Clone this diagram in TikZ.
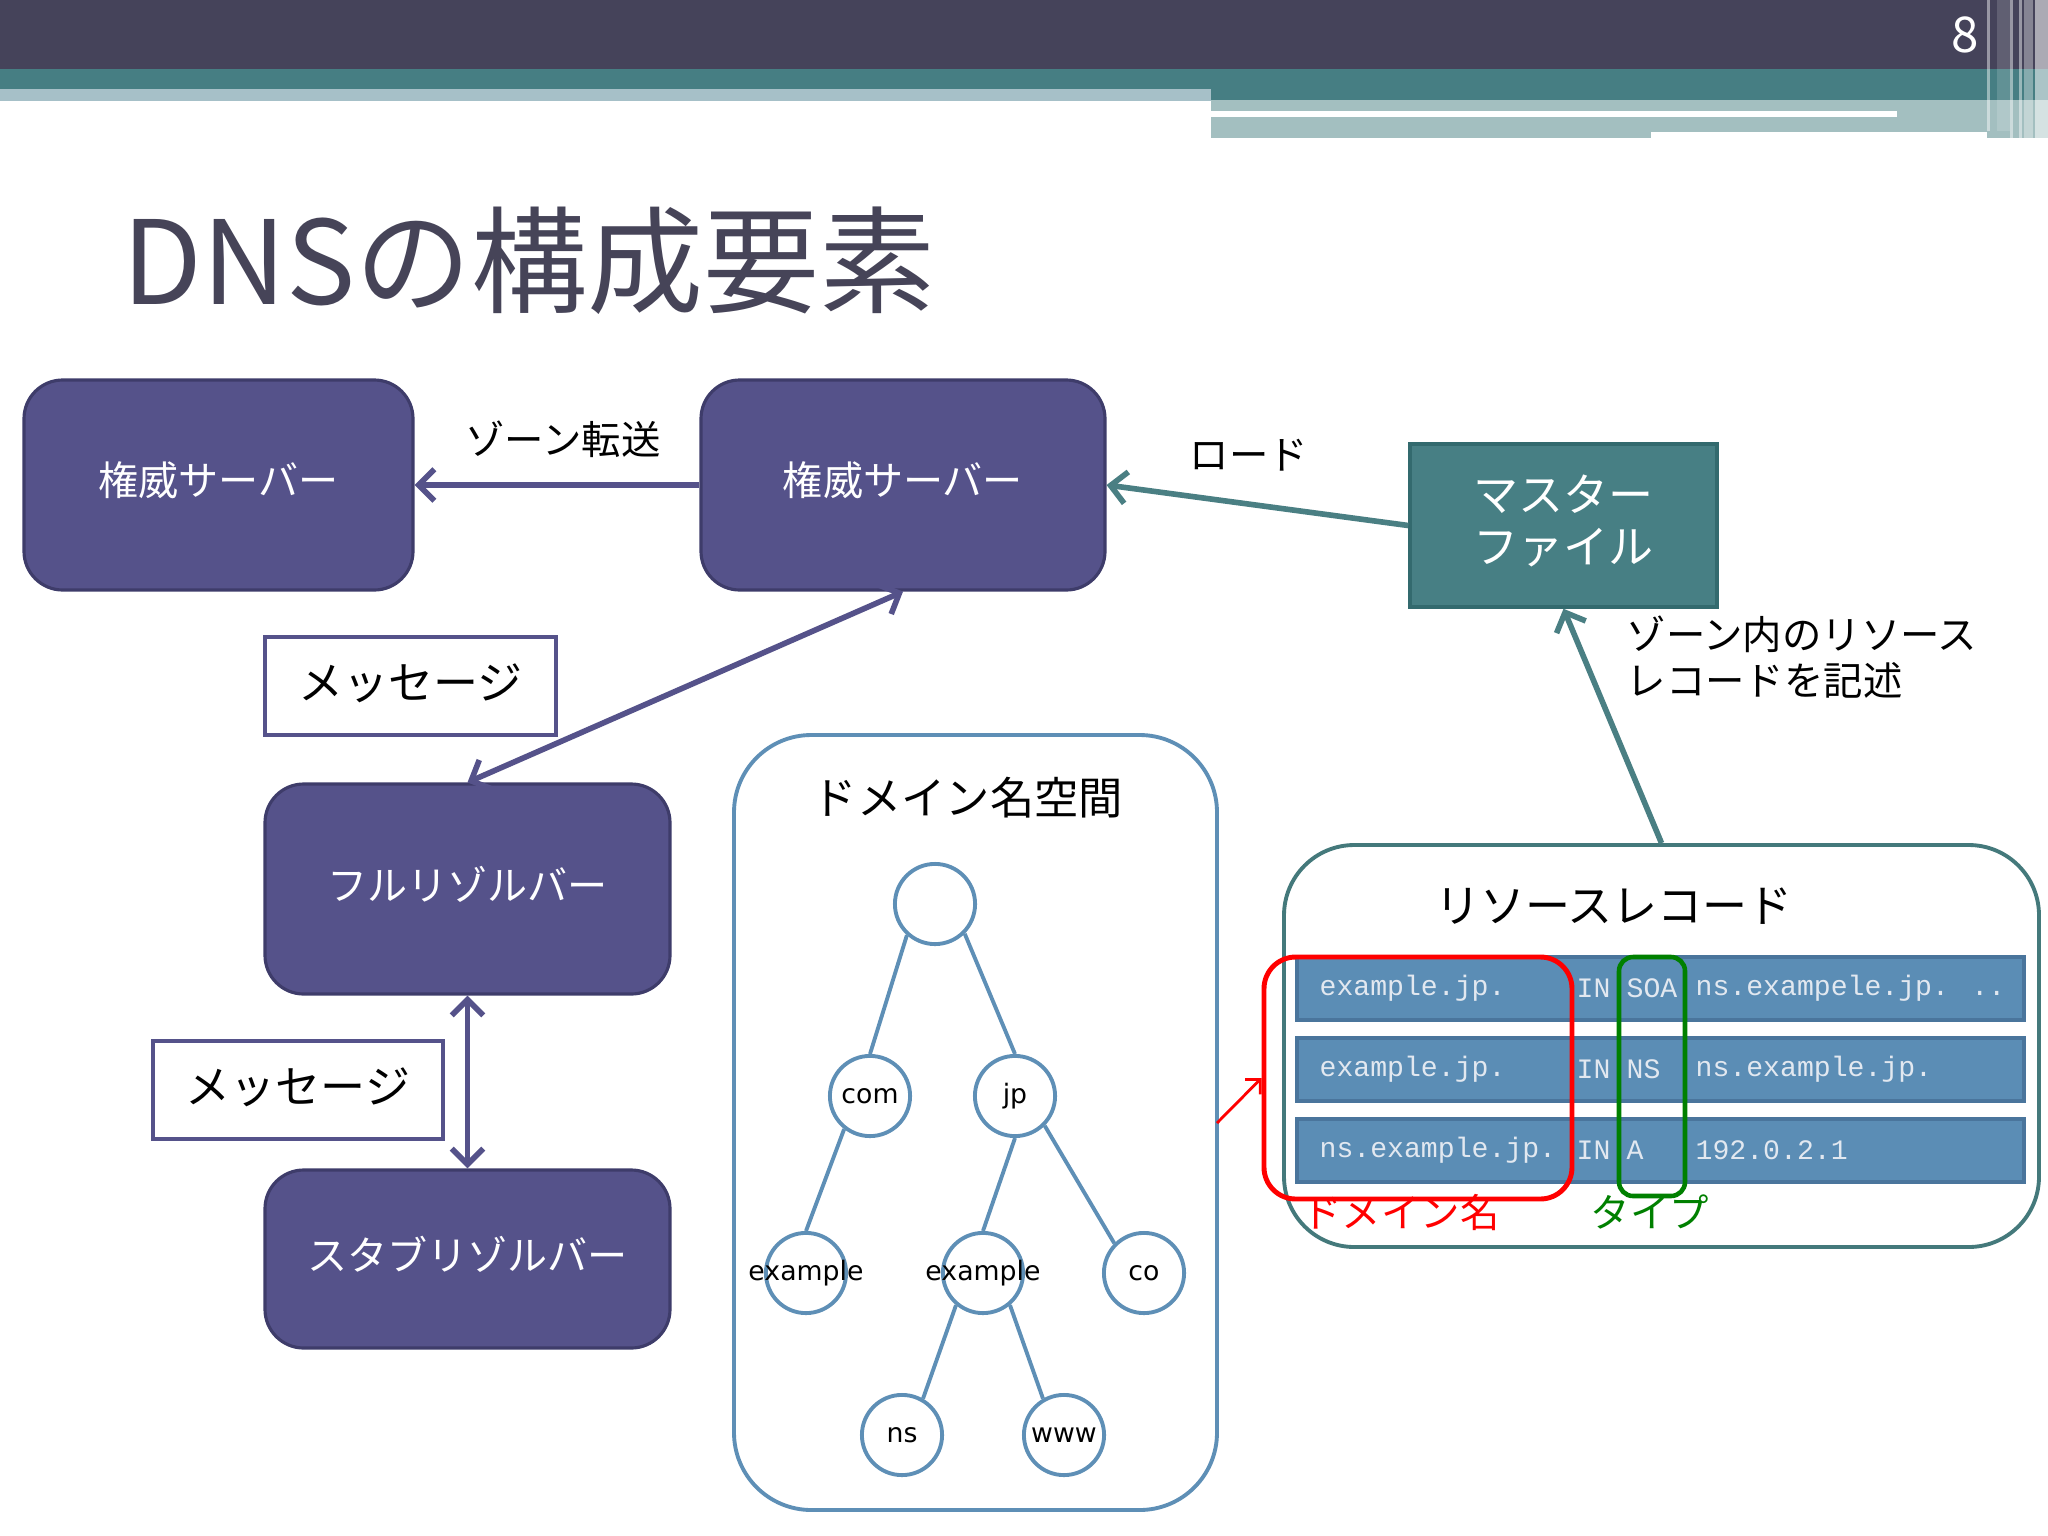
\documentclass[tikz,border=0pt]{standalone}
\usepackage{fontspec}
\setmainfont{Noto Sans CJK JP}
\newfontfamily\monofont{Liberation Mono}
\newfontfamily\dvfont{DejaVu Sans}
\usetikzlibrary{arrows.meta,fit,shapes.geometric}
\definecolor{darkbar}{HTML}{45435A}
\definecolor{tealbar}{HTML}{467E83}
\definecolor{lightbarL}{HTML}{A6C0C8}
\definecolor{lightbarR}{HTML}{A3BFC0}
\definecolor{srvfill}{HTML}{55528A}
\definecolor{srvline}{HTML}{3E3C6A}
\definecolor{titlecol}{HTML}{464458}
\definecolor{mffill}{HTML}{477F84}
\definecolor{mfline}{HTML}{336A6E}
\definecolor{domline}{HTML}{5E8FB6}
\definecolor{rrline}{HTML}{44797B}
\definecolor{rowfill}{HTML}{5B8DB5}
\definecolor{rowline}{HTML}{4A759C}
\definecolor{rowtext}{HTML}{E2E8F0}
\definecolor{tealarr}{HTML}{4A7F83}
\definecolor{gcol}{HTML}{008000}
\definecolor{rcol}{HTML}{FF0000}
\tikzset{
  srv/.style={draw=srvline, fill=srvfill, line width=0.9pt, rounded corners=11pt, inner sep=0pt},
  srvtext/.style={text=white, inner sep=0pt, font=\fontsize{11.4}{14}\selectfont},
  msgbox/.style={draw=srvfill, fill=white, line width=1.1pt, inner sep=0pt},
  msgtext/.style={inner sep=0pt, font=\fontsize{12.8}{15}\selectfont},
  mfbox/.style={draw=mfline, fill=mffill, line width=1pt, inner sep=0pt},
  mftext/.style={text=white, align=center, inner sep=0pt, font=\fontsize{12.8}{14.8}\selectfont},
  domcont/.style={draw=domline, line width=1.1pt, rounded corners=22pt, inner sep=0pt},
  rrcont/.style={draw=rrline, line width=1.1pt, rounded corners=20pt, inner sep=0pt},
  tnode/.style={circle, draw=domline, fill=white, line width=1.1pt, minimum size=22.8pt, inner sep=0pt},
  tlab/.style={font=\dvfont\fontsize{7.6}{9}\selectfont, inner sep=0pt},
  tedge/.style={draw=domline, line width=1.1pt},
  rowbox/.style={draw=rowline, fill=rowfill, line width=0.9pt, inner sep=0pt},
  rtext/.style={anchor=west, text=rowtext, font=\monofont\fontsize{8}{9}\selectfont, inner sep=0pt},
  barb/.tip={Straight Barb[length=4.5pt,width=9pt]},
  parr/.style={draw=srvfill, line width=1.6pt, -barb},
  parrboth/.style={draw=srvfill, line width=1.6pt, barb-barb},
  tarr/.style={draw=tealarr, line width=1.6pt, -barb},
  rarr/.style={draw=rcol, line width=0.8pt, -{Straight Barb[length=3pt,width=6pt]}},
  lab/.style={font=\fontsize{11.2}{13.1}\selectfont, inner sep=0pt},
  bigtitle/.style={font=\fontsize{12.6}{15}\selectfont, inner sep=0pt},
}
\begin{document}
\begin{tikzpicture}[x=0.01cm,y=-0.01cm]
\useasboundingbox (0,0) rectangle (2048,1536);
\fill[white] (0,0) rectangle (2048,1536);
% header bars
\fill[darkbar] (0,0) rectangle (2048,69);
\fill[tealbar] (0,69) rectangle (2048,89);
\fill[tealbar] (1211,89) rectangle (2048,100);
\fill[lightbarL] (0,89) rectangle (1211,101);
\fill[lightbarR] (1211,100) rectangle (2048,138);
\fill[white] (1211,111) rectangle (1897,117);
\fill[white] (1651,132) rectangle (1987,138);
\fill[white,opacity=0.45] (1987,0) rectangle (1990,131);
\fill[white,opacity=0.15] (1997,0) rectangle (2010,131);
\fill[white,opacity=0.45] (2010,0) rectangle (2013,138);
\fill[white,opacity=0.45] (2019,0) rectangle (2022,138);
\fill[white,opacity=0.35] (2024,0) rectangle (2033,138);
\fill[white,opacity=0.55] (2035,0) rectangle (2048,138);
\node[text=white, font=\fontsize{14}{16}\selectfont, inner sep=0pt] (pnum) at (1965,35) {8};
% title
\node[anchor=base west, text=titlecol, font=\fontsize{33}{38}\selectfont, inner sep=0pt] (title) at (122,304) {DNSの構成要素};
% servers
\node[srv, fit={(24,380)(413,590)}] (auth1) {};
\node[srvtext] at ([yshift=5pt*0.2845]auth1.center) {権威サーバー};
\node[srv, fit={(701,380)(1105,590)}] (auth2) {};
\node[srvtext] at ([yshift=5pt*0.2845]auth2.center) {権威サーバー};
\node[srv, fit={(265,784)(670,994)}] (full) {};
\node[srvtext] at ([yshift=5pt*0.2845]full.center) {フルリゾルバー};
\node[srv, fit={(265,1170)(670,1348)}] (stub) {};
\node[srvtext] at ([yshift=5pt*0.2845]stub.center) {スタブリゾルバー};
% message boxes
\node[msgbox, fit={(265,637)(556,735)}] (msg1) {};
\node[msgtext] at ([yshift=3pt*0.2845]msg1.center) {メッセージ};
\node[msgbox, fit={(153,1041)(443,1139)}] (msg2) {};
\node[msgtext] at ([yshift=3pt*0.2845]msg2.center) {メッセージ};
% master file
\node[mfbox, fit={(1410,444)(1717,607)}] (mf) {};
\node[mftext] at ([yshift=5pt*0.2845]mf.center) {マスター\\ファイル};
% labels
\node[lab] (lzt) at (563,439) {ゾーン転送};
\node[lab] (lload) at (1249,455) {ロード};
\node[lab, anchor=west, align=left] (ldesc) at (1626,657) {ゾーン内のリソース\\レコードを記述};
% domain name space
\node[domcont, fit={(734,735)(1217,1510)}] (dom) {};
\node[bigtitle] (domt) at (968,798) {ドメイン名空間};
\node[tnode] (root) at (935,904) {};
\node[tnode, label={[tlab]center:com}] (com) at (870,1096) {};
\node[tnode, label={[tlab]center:jp}] (jp) at (1015,1096) {};
\node[tnode, label={[tlab]center:example}] (exl) at (806,1273) {};
\node[tnode, label={[tlab]center:example}] (exm) at (983,1273) {};
\node[tnode, label={[tlab]center:co}] (co) at (1144,1273) {};
\node[tnode, label={[tlab]center:ns}] (ns) at (902,1435) {};
\node[tnode, label={[tlab]center:www}] (www) at (1064,1435) {};
\draw[tedge] (root.-132) -- (com.90);
\draw[tedge] (root.-45) -- (jp.90);
\draw[tedge] (com.-128) -- (exl.90);
\draw[tedge] (jp.-90) -- (exm.90);
\draw[tedge] (jp.-45) -- (co.135);
\draw[tedge] (exm.-130) -- (ns.60);
\draw[tedge] (exm.-50) -- (www.120);
% resource records
\node[rrcont, fit={(1284,845)(2039,1247)}] (rr) {};
\node[bigtitle, font=\fontsize{12.8}{15}\selectfont] (rrt) at (1614,906) {リソースレコード};
\node[rowbox, fit={(1297,957)(2024,1020)}] (row1) {};
\node[rowbox, fit={(1297,1038)(2024,1101)}] (row2) {};
\node[rowbox, fit={(1297,1119)(2024,1182)}] (row3) {};
\node[rtext] at (1319,988) {example.jp.};
\node[rtext] at (1576,988) {IN};
\node[rtext] at (1626,988) {SOA};
\node[rtext] at (1695,988) {ns.exampele.jp. ..};
\node[rtext] at (1319,1069) {example.jp.};
\node[rtext] at (1576,1069) {IN};
\node[rtext] at (1626,1069) {NS};
\node[rtext] at (1695,1069) {ns.example.jp.};
\node[rtext] at (1319,1150) {ns.example.jp.};
\node[rtext] at (1576,1150) {IN};
\node[rtext] at (1626,1150) {A};
\node[rtext] at (1695,1150) {192.0.2.1};
\node[draw=rcol, line width=1.4pt, rounded corners=9pt, inner sep=0pt, fit={(1264,957)(1572,1199)}] (redbox) {};
\node[draw=gcol, line width=1.3pt, rounded corners=4pt, inner sep=0pt, fit={(1619,957)(1685,1196)}] (greenbox) {};
\node[lab, text=rcol] (ldn) at (1401,1212) {ドメイン名};
\node[lab, text=gcol] (ltype) at (1650,1212) {タイプ};
\coordinate (rstart) at (1217,1123);
\draw[rarr] (rstart) -- (redbox.west);
% connectors
\draw[parr] (auth2.west) -- (auth1.east);
\draw[parrboth] (auth2.south) -- (full.north);
\draw[parrboth] (full.south) -- (stub.north);
\draw[tarr] (mf.west) -- (auth2.east);
\draw[tarr] (rr.north) -- (mf.south);
\end{tikzpicture}
\end{document}
